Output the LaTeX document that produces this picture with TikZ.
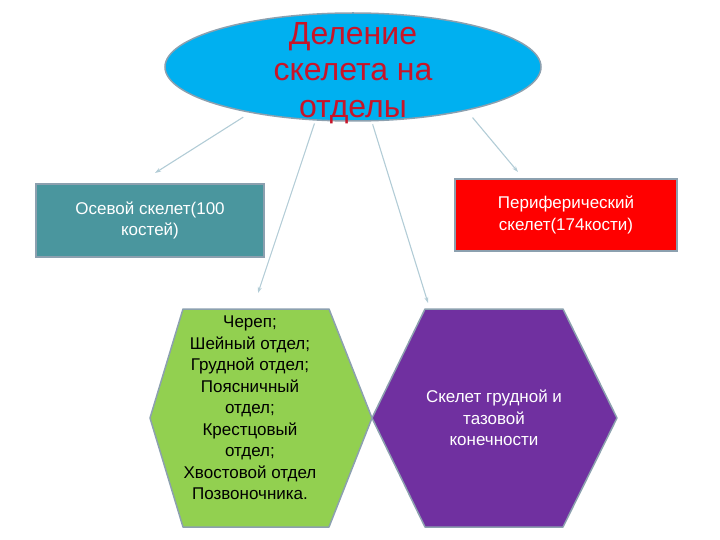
\documentclass[tikz,border=0pt]{standalone}
\usepackage{fontspec}
\setmainfont{Liberation Sans}
\usetikzlibrary{arrows.meta, shapes.geometric, positioning, calc}
\usepackage{xcolor}

\definecolor{ovalblue}{RGB}{0,176,240}
\definecolor{titlered}{RGB}{200,20,40}
\definecolor{tealbox}{RGB}{74,150,158}
\definecolor{hexgreen}{RGB}{146,208,80}
\definecolor{hexpurple}{RGB}{112,48,160}
\definecolor{edgegrey}{RGB}{140,160,175}
\definecolor{arrowgrey}{RGB}{178,204,214}

\begin{document}
\begin{tikzpicture}[x=1pt, y=-1pt,
	oval/.style={ellipse, draw=edgegrey, line width=1.5pt, fill=ovalblue, minimum width=376pt, minimum height=108pt, inner sep=0pt},
	titletext/.style={text=titlered, align=center, inner sep=0pt, font=\fontsize{32}{36.5}\selectfont},
	tealrect/.style={rectangle, draw=edgegrey, line width=1.5pt, fill=tealbox, text=white, minimum height=73pt, minimum width=228pt, align=center, font=\fontsize{17}{21}\selectfont},
	redrect/.style={rectangle, draw=edgegrey, line width=1.5pt, fill=red, text=white, minimum height=72pt, minimum width=222pt, align=center, font=\fontsize{17}{21.5}\selectfont},
	hexfill/.style={draw=edgegrey, line width=1.5pt, line join=round},
	hextext/.style={align=center, inner sep=0pt, font=\fontsize{17}{21.5}\selectfont},
	arrow/.style={-{Stealth[length=6pt, width=4pt]}, line width=1.1pt, arrowgrey},
	every node/.style={align=center}
	]
	\useasboundingbox (0,0) rectangle (720,540);

	\node[oval] (top) at (353,67) {};
	\node[titletext] (title) at (353,73) {Деление\\ скелета на\\ отделы};

	\node[tealrect] (axial) at (150,220.5) {Осевой скелет(100\\ костей)};
	\node[redrect] (periph) at (566,215) {Периферический\\ скелет(174кости)};

	% hexagons
	\draw[hexfill, fill=hexgreen] (150,418) -- (183,309) -- (329,309) -- (372,418) -- (329,527) -- (183,527) -- cycle;
	\draw[hexfill, fill=hexpurple] (372,418) -- (425,309) -- (563,309) -- (617,418) -- (563,527) -- (425,527) -- cycle;
	\node[hextext] (axialparts) at (250,408) {Череп;\\ Шейный отдел;\\ Грудной отдел;\\ Поясничный\\ отдел;\\ Крестцовый\\ отдел;\\ Хвостовой отдел\\ Позвоночника.};
	\node[hextext, text=white] (limbs) at (494,418) {Скелет грудной и\\ тазовой\\ конечности};

	% free arrow ends
	\coordinate (a1) at (155,173);
	\coordinate (a2) at (258,293);
	\coordinate (a3) at (428,303);
	\coordinate (a4) at (518,172);

	\draw[arrow, shorten <=8pt] (top.-156) -- (a1);
	\draw[arrow, shorten <=3pt] (top.-125) -- (a2);
	\draw[arrow, shorten <=3pt] (top.-71) -- (a3);
	\draw[arrow, shorten <=9pt] (top.-21) -- (a4);
\end{tikzpicture}
\end{document}
